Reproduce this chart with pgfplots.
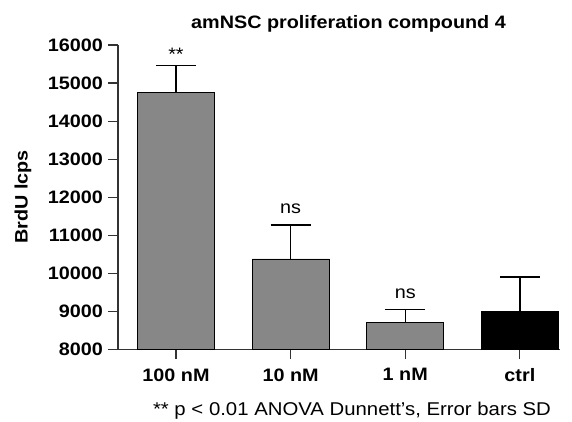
\documentclass[border=0pt]{standalone}
\usepackage{fontspec}
\setmainfont{Liberation Sans}[FakeStretch=1.1]
\usepackage{pgfplots}
\pgfplotsset{compat=1.18}
\definecolor{bargray}{HTML}{878787}
\definecolor{axisgray}{HTML}{333333}
\begin{document}
\begin{tikzpicture}
\useasboundingbox (-118pt,-71.5pt) rectangle (454pt,349.5pt);
\begin{axis}[
  at={(0pt,0pt)}, anchor=south west,
  scale only axis, width=442pt, height=304.5pt,
  xmin=-0.506, xmax=3.35, ymin=8000, ymax=16000,
  axis x line*=bottom, axis y line*=left,
  xtick={0,1,2,3}, xticklabels={100 nM,10 nM,1 nM,ctrl},
  ytick={8000,9000,...,16000},
  scaled y ticks=false,
  /pgf/number format/1000 sep={},
  /pgf/number format/assume math mode=true,
  tick align=outside, major tick length=9.5pt,
  tick style={line width=1.2pt, axisgray},
  axis line style={line width=1.2pt, axisgray},
  tick label style={font=\fontsize{18}{20}\selectfont\bfseries},
  xticklabel style={yshift=-6pt},
  yticklabel style={xshift=-2pt},
  every axis plot/.append style={bar shift=0pt},
]
\addplot[ybar, bar width=77pt, fill=bargray, draw=black, line width=0.9pt,
  error bars/.cd, y dir=plus, y explicit,
  error bar style={line width=1.3pt, black},
  error mark options={line width=1.3pt, black, mark size=20pt, rotate=90}]
  coordinates {(0,14758) +- (0,699) (1,10378) +- (0,892) (2,8714) +- (0,332)};
\addplot[ybar, bar width=77pt, fill=black, draw=black, line width=0.9pt,
  error bars/.cd, y dir=plus, y explicit,
  error bar style={line width=1.3pt, black},
  error mark options={line width=1.3pt, black, mark size=20pt, rotate=90}]
  coordinates {(3,8993) +- (0,912)};
\node[anchor=base, font=\fontsize{18}{20}\selectfont] at (axis cs:0,15596) {**};
\node[anchor=base, font=\fontsize{18}{20}\selectfont] at (axis cs:1,11586) {ns};
\node[anchor=base, font=\fontsize{18}{20}\selectfont] at (axis cs:2,9353) {ns};
\end{axis}
\node[anchor=base, font=\fontsize{18}{20}\selectfont\bfseries] at (230.5pt,320.5pt) {amNSC proliferation compound 4};
\node[rotate=90, inner sep=0pt, font=\fontsize{18}{20}\selectfont\bfseries] at (-95pt,152.5pt) {BrdU lcps};
\node[anchor=base, font=\fontsize{18.5}{20}\selectfont] at (234pt,-65.5pt) {** p < 0.01 ANOVA Dunnett's, Error bars SD};
\end{tikzpicture}
\end{document}
